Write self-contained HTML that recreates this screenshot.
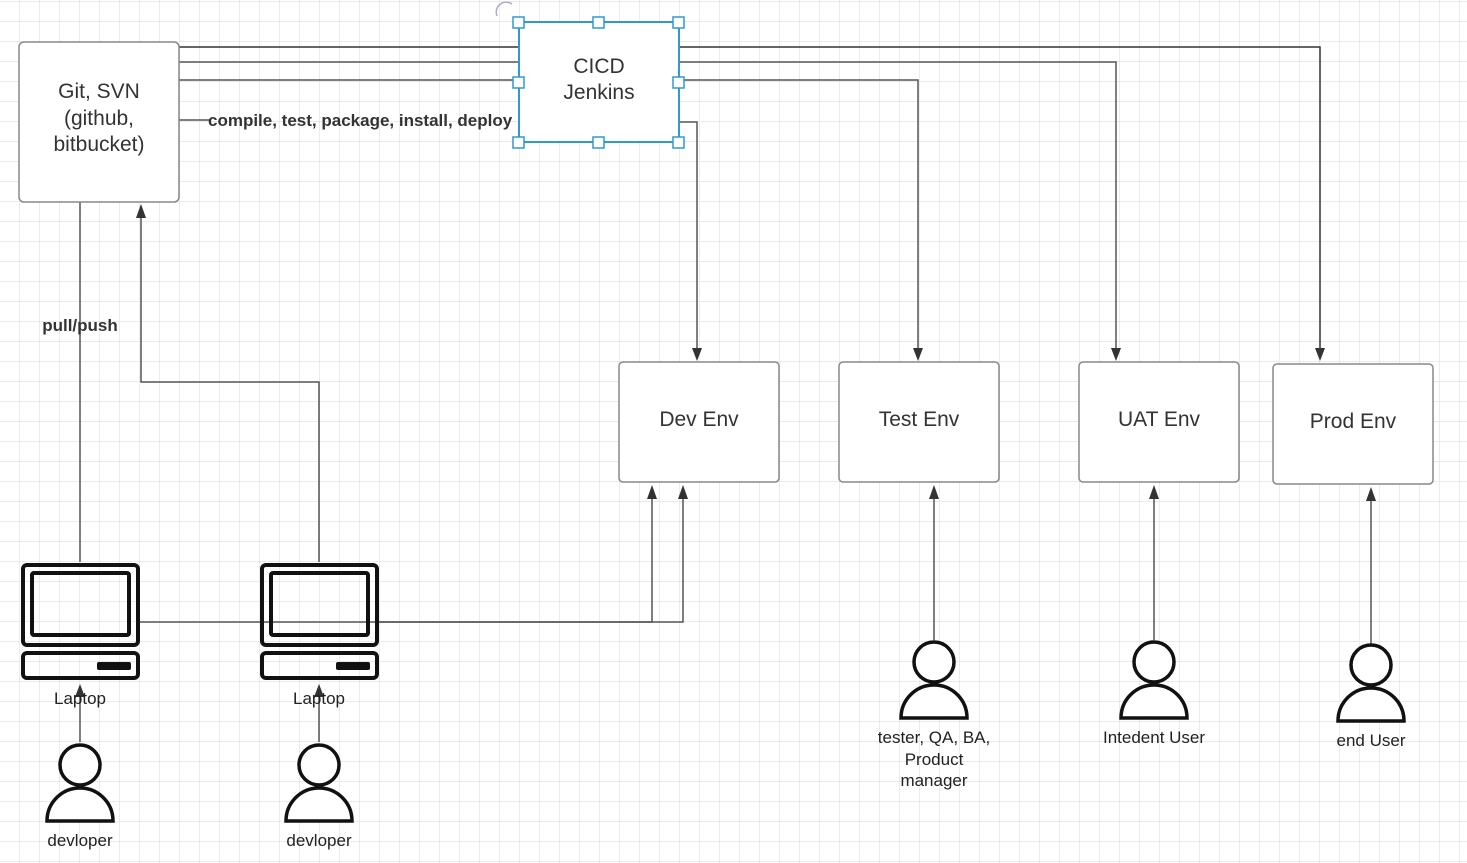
<!DOCTYPE html>
<html><head><meta charset="utf-8"><style>
html,body{margin:0;padding:0;background:#fff;}
svg{display:block;font-family:"Liberation Sans",sans-serif;}
</style></head><body>
<svg width="1467" height="863" viewBox="0 0 1467 863" xmlns="http://www.w3.org/2000/svg">
<defs>
<pattern id="g" width="20" height="20" patternUnits="userSpaceOnUse" y="2">
<path d="M20 0V20M0 20H20" fill="none" stroke="#dedede" stroke-width="1.2"/>
</pattern>
</defs>
<rect width="1467" height="863" fill="url(#g)"/>
<g fill="none" stroke="#555" stroke-width="1.5">
<path d="M179 47H1320V350" stroke="#333"/>
<path d="M179 62H1116V350"/>
<path d="M179 80H918V350"/>
<path d="M679 122H697V350"/>
<path d="M179 120H210"/>
<path d="M80 562V195"/>
<path d="M319 562V382H141V216"/>
<path d="M139 622H652V497"/>
<path d="M378 622H683V497"/>
<path d="M934 640V497"/>
<path d="M1154 640V497"/>
<path d="M1371 644V499"/>
<path d="M80 742V695"/>
<path d="M319 742V695"/>
</g>
<g fill="#333">
<polygon points="1315,348 1325,348 1320,361"/>
<polygon points="1111,348 1121,348 1116,361"/>
<polygon points="913,348 923,348 918,361"/>
<polygon points="692,348 702,348 697,361"/>
<polygon points="75,197 85,197 80,183"/>
<polygon points="136,218 146,218 141,204"/>
<polygon points="647,499 657,499 652,485"/>
<polygon points="678,499 688,499 683,485"/>
<polygon points="929,499 939,499 934,485"/>
<polygon points="1149,499 1159,499 1154,485"/>
<polygon points="1366,501 1376,501 1371,487"/>
<polygon points="75,697 85,697 80,684"/>
<polygon points="314,697 324,697 319,684"/>
</g>
<rect x="19" y="42" width="160" height="160" rx="5" fill="#fff" stroke="#888" stroke-width="1.5"/>
<text x="99" y="98" font-size="21" fill="#333" text-anchor="middle">Git, SVN</text>
<text x="99" y="125" font-size="21" fill="#333" text-anchor="middle">(github,</text>
<text x="99" y="151" font-size="21" fill="#333" text-anchor="middle">bitbucket)</text>
<text x="208" y="126" font-size="17" font-weight="bold" fill="#333">compile, test, package, install, deploy</text>
<text x="80" y="331" font-size="17" font-weight="bold" fill="#333" text-anchor="middle">pull/push</text>
<rect x="519" y="22" width="160" height="120" fill="#fff" stroke="#3399cc" stroke-width="2"/>
<text x="599" y="73" font-size="21" fill="#333" text-anchor="middle">CICD</text>
<text x="599" y="99" font-size="21" fill="#333" text-anchor="middle">Jenkins</text>
<g fill="#fff" stroke="#3399cc" stroke-width="1.5">
<rect x="513" y="17" width="11" height="11"/><rect x="593" y="17" width="11" height="11"/><rect x="673" y="17" width="11" height="11"/>
<rect x="513" y="77" width="11" height="11"/><rect x="673" y="77" width="11" height="11"/>
<rect x="513" y="137" width="11" height="11"/><rect x="593" y="137" width="11" height="11"/><rect x="673" y="137" width="11" height="11"/>
</g>
<path d="M497 16 A10 10 0 0 1 512 4" fill="none" stroke="#aac" stroke-width="1.5"/>
<g fill="#fff" stroke="#888" stroke-width="1.5">
<rect x="619" y="362" width="160" height="120" rx="4"/>
<rect x="839" y="362" width="160" height="120" rx="4"/>
<rect x="1079" y="362" width="160" height="120" rx="4"/>
<rect x="1273" y="364" width="160" height="120" rx="4"/>
</g>
<g font-size="21" fill="#333" text-anchor="middle">
<text x="699" y="426">Dev Env</text>
<text x="919" y="426">Test Env</text>
<text x="1159" y="426">UAT Env</text>
<text x="1353" y="428">Prod Env</text>
</g>
<g fill="none" stroke="#111" stroke-width="4">
<rect x="23" y="565" width="115" height="80" rx="4"/>
<rect x="32" y="573" width="97" height="62" rx="2"/>
<rect x="23" y="653" width="115" height="25" rx="4"/>
<rect x="262" y="565" width="115" height="80" rx="4"/>
<rect x="271" y="573" width="97" height="62" rx="2"/>
<rect x="262" y="653" width="115" height="25" rx="4"/>
</g>
<rect x="97" y="662" width="34" height="8" rx="2" fill="#111"/>
<rect x="336" y="662" width="34" height="8" rx="2" fill="#111"/>
<g font-size="17" fill="#222" text-anchor="middle">
<text x="80" y="704">Laptop</text>
<text x="319" y="704">Laptop</text>
<text x="80" y="846">devloper</text>
<text x="319" y="846">devloper</text>
<text x="934" y="743">tester, QA, BA,</text>
<text x="934" y="765">Product</text>
<text x="934" y="786">manager</text>
<text x="1154" y="743">Intedent User</text>
<text x="1371" y="746">end User</text>
</g>
<g fill="#fff" stroke="#111" stroke-width="3.5">
<path d="M47 821A33 33 0 0 1 113 821Z"/><circle cx="80" cy="765" r="20"/>
<path d="M286 821A33 33 0 0 1 352 821Z"/><circle cx="319" cy="765" r="20"/>
<path d="M901 718A33 33 0 0 1 967 718Z"/><circle cx="934" cy="662" r="20"/>
<path d="M1121 718A33 33 0 0 1 1187 718Z"/><circle cx="1154" cy="662" r="20"/>
<path d="M1338 721A33 33 0 0 1 1404 721Z"/><circle cx="1371" cy="665" r="20"/>
</g>
</svg>
</body></html>
